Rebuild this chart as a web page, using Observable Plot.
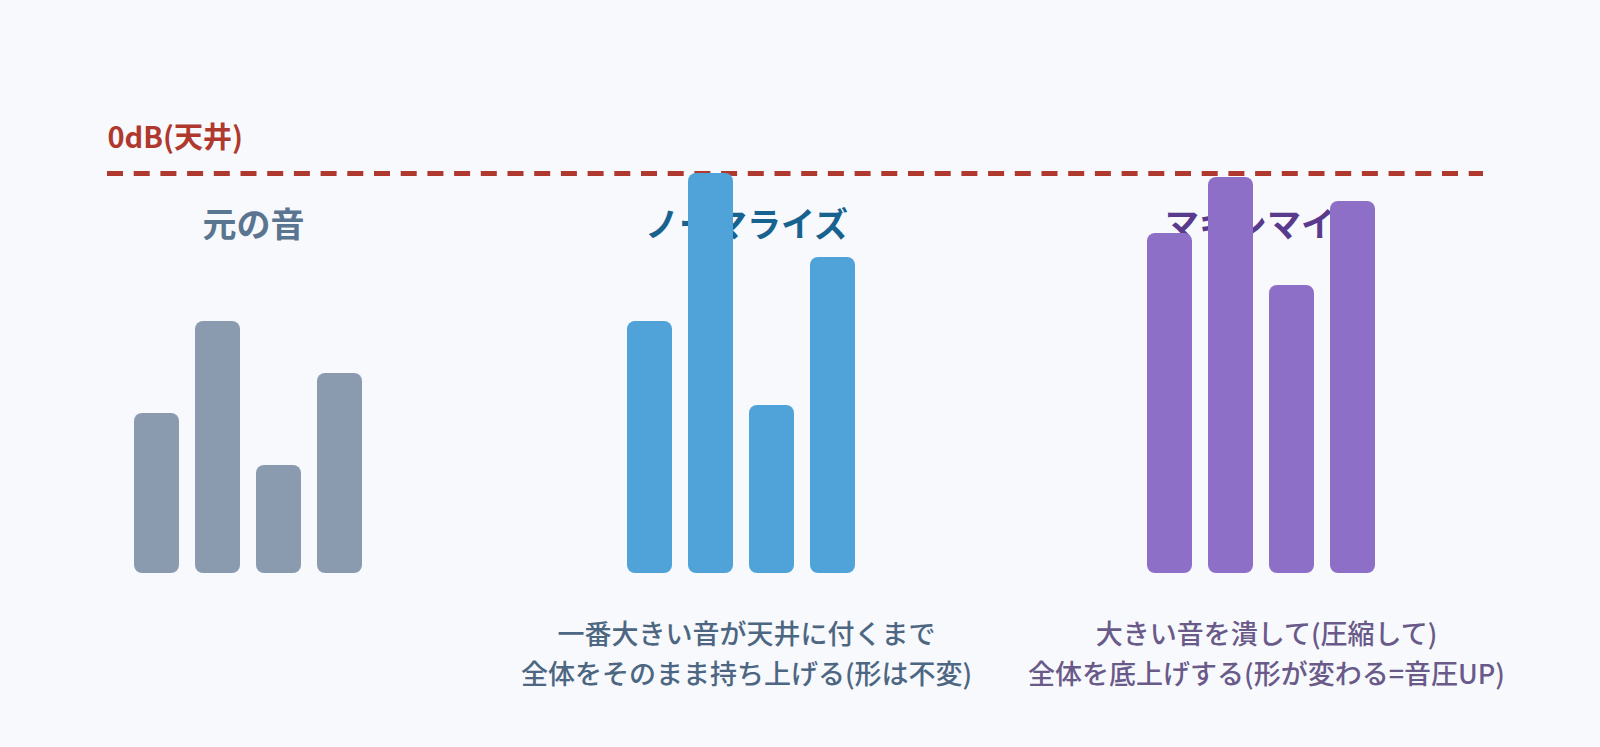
<!DOCTYPE html>
<html lang="ja">
<head>
<meta charset="utf-8">
<script src="https://cdn.jsdelivr.net/npm/d3@7"></script>
<script src="https://cdn.jsdelivr.net/npm/@observablehq/plot@0.6"></script>
<style>
  html, body { margin: 0; padding: 0; background: #f7f9fc; overflow: hidden; }
  #stage { position: relative; width: 1600px; height: 747px; }
  #stage > svg, #stage > figure { position: absolute; top: 0; margin: 0; }
</style>
</head>
<body>
<div id="stage"></div>
<script>
// ---- data ----
const groups = ["元の音", "ノーマライズ", "マキシマイズ"];
const barIds = ["1", "2", "3", "4"];
const original = [40, 63, 27, 50];
const normalized = [63, 100, 42, 79];
const maximized = [85, 99, 72, 93];
const ceilingValue = 100;
const ceilingLabel = "0dB(天井)";
const captions = [
  "",
  "一番大きい音が天井に付くまで\n全体をそのまま持ち上げる(形は不変)",
  "大きい音を潰して(圧縮して)\n全体を底上げする(形が変わる=音圧UP)"
];

// ---- styles ----
const barColors = ["#8a9bb0", "#50a3d8", "#8e6fc7"];
const titleColors = ["#5a7590", "#17628f", "#5a3a8c"];
const captionColors = ["#4d6782", "#4d6782", "#6a5a8a"];
const font = "'Noto Sans CJK JP', 'Noto Sans', sans-serif";

const W = 1600, H = 747, mTop = 173, mBottom = 174;
const series = [original, normalized, maximized];
const columnLefts = [-12.2, 481.2, 1001.2];
const colW = 520, barSpan = 229;

const stage = document.getElementById("stage");

// base: ceiling line + label
const base = Plot.plot({
  width: W, height: H,
  marginTop: mTop, marginBottom: mBottom, marginLeft: 107, marginRight: 117,
  style: {background: "transparent", fontFamily: font, overflow: "visible"},
  x: {axis: null, domain: [0, 1]},
  y: {axis: null, domain: [0, ceilingValue]},
  marks: [
    Plot.ruleY([ceilingValue], {stroke: "#b0392f", strokeWidth: 5, strokeDasharray: "16,10.7"}),
    Plot.text([ceilingLabel], {
      y: () => ceilingValue, frameAnchor: "left", textAnchor: "start", lineAnchor: "middle",
      dy: -35, fill: "#b0392f", fontSize: 29, fontWeight: "bold", fontFamily: font
    })
  ]
});
base.style.left = "0px";
stage.appendChild(base);

groups.forEach((g, gi) => {
  const rows = barIds.map((id, i) => ({id, value: series[gi][i]}));
  const p = Plot.plot({
    width: colW, height: H,
    marginTop: mTop, marginBottom: mBottom,
    marginLeft: (colW - barSpan) / 2, marginRight: (colW - barSpan) / 2,
    style: {background: "transparent", fontFamily: font, overflow: "visible"},
    x: {axis: null, domain: barIds, paddingInner: 0.266, paddingOuter: 0},
    y: {axis: null, domain: [0, ceilingValue]},
    marks: [
      Plot.text([g], {
        frameAnchor: "top", dy: 53, dx: 5, lineAnchor: "middle",
        fill: titleColors[gi], fontSize: 34, fontWeight: "bold", fontFamily: font
      }),
      Plot.barY(rows, {x: "id", y: "value", fill: barColors[gi], rx: 8, ry: 8}),
      Plot.text([captions[gi]], {
        frameAnchor: "bottom", dy: 78, dx: 5, lineAnchor: "middle", lineHeight: 1.48,
        fill: captionColors[gi], fontSize: 27, fontWeight: 500, fontFamily: font
      })
    ]
  });
  p.style.left = columnLefts[gi] + "px";
  stage.appendChild(p);
});
</script>
</body>
</html>
